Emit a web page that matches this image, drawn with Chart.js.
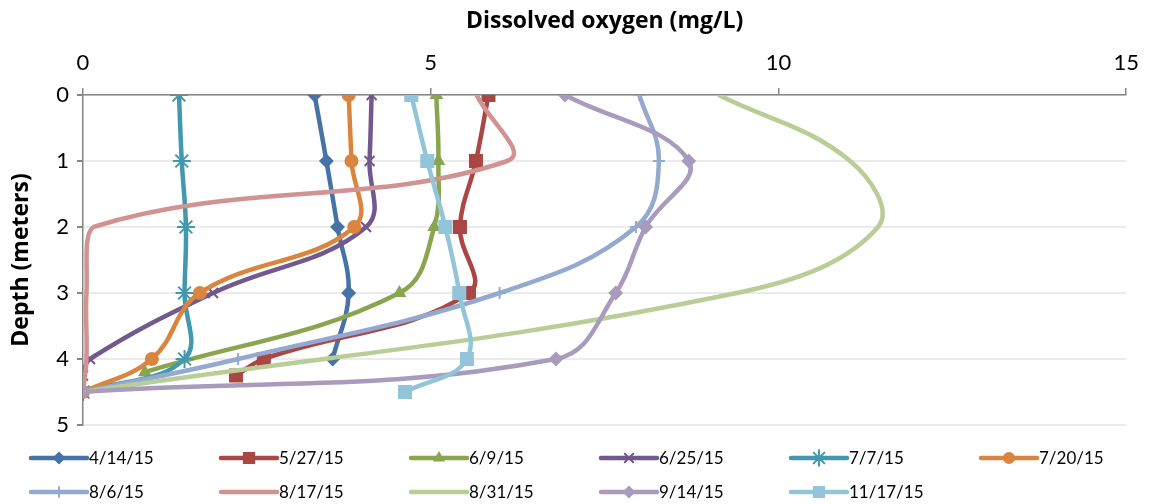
<!DOCTYPE html>
<html lang="en">
<head>
    <meta charset="UTF-8">
    <title>Dissolved oxygen profiles</title>
    <style>
        html, body { margin: 0; padding: 0; background: #fff; }
        #wrap { width: 1151px; height: 504px; position: relative; }
    </style>
    <script src="https://cdn.jsdelivr.net/npm/chart.js"></script>
</head>
<body>
<div id="wrap"><canvas id="doChart" width="1151" height="504"></canvas></div>
<script>
    // sample dates (legend)
    const dates = ['4/14/15', '5/27/15', '6/9/15', '6/25/15', '7/7/15', '7/20/15',
                   '8/6/15', '8/17/15', '8/31/15', '9/14/15', '11/17/15'];

    // depth (m) and dissolved oxygen (mg/L) for each profile
    const dep0414 = [0, 1, 2, 3, 4];
    const do0414  = [3.33, 3.5, 3.66, 3.82, 3.59];
    const dep0527 = [0, 1, 2, 3, 4, 4.25];
    const do0527  = [5.83, 5.65, 5.42, 5.55, 2.6, 2.2];
    const dep0609 = [0, 1, 2, 3, 4.2];
    const do0609  = [5.08, 5.11, 5.05, 4.55, 0.89];
    const dep0625 = [0, 1, 2, 3, 4, 4.25];
    const do0625  = [4.15, 4.12, 4.07, 1.87, 0.1, 0];
    const dep0707 = [0, 1, 2, 3, 4, 4.5];
    const do0707  = [1.38, 1.42, 1.48, 1.46, 1.46, 0];
    const dep0720 = [0, 1, 2, 3, 4, 4.5];
    const do0720  = [3.82, 3.86, 3.9, 1.68, 0.99, 0];
    const dep0806 = [0, 1, 2, 3, 4, 4.5];
    const do0806  = [8.0, 8.28, 7.95, 5.99, 2.23, 0];
    const dep0817 = [0, 1, 2, 3, 4, 4.5];
    const do0817  = [5.66, 6.1, 0.15, 0.05, 0.05, 0];
    const dep0831 = [0, 1, 2, 3, 4.5];
    const do0831  = [9.14, 11.03, 11.43, 9.4, 0];
    const dep0914 = [0, 1, 2, 3, 4, 4.5];
    const do0914  = [6.93, 8.71, 8.09, 7.66, 6.8, 0];
    const dep1117 = [0, 1, 2, 3, 4, 4.5];
    const do1117  = [4.72, 4.95, 5.21, 5.41, 5.52, 4.63];

    const xTicks = [0, 5, 10, 15];
    const yTicks = [0, 1, 2, 3, 4, 5];

    const depths = [dep0414, dep0527, dep0609, dep0625, dep0707, dep0720, dep0806, dep0817, dep0831, dep0914, dep1117];
    const oxygen = [do0414, do0527, do0609, do0625, do0707, do0720, do0806, do0817, do0831, do0914, do1117];

    const colors = ['#4572A7', '#AA4643', '#89A54E', '#71588F', '#4198AF', '#DB843D',
                    '#93A9CF', '#D19392', '#B9CD96', '#A99BBD', '#92C5DA'];
    const markers = ['rectRot', 'rect', 'triangle', 'crossRot', 'star', 'circle',
                     'cross', false, false, 'rectRot', 'rect'];
    const markerSize = [6, 8.5, 6, 7, 9, 6, 6, 0, 0, 6, 8.5];

    const FONT = 'Lato, "Open Sans", sans-serif';
    const TITLE_FONT = '"Open Sans", "Noto Sans", sans-serif';

    const datasets = dates.map(function (d, i) {
        return {
            label: d,
            data: oxygen[i].map(function (v, j) { return { x: v, y: depths[i][j] }; }),
            showLine: true,
            borderColor: colors[i],
            backgroundColor: colors[i],
            borderWidth: 4.5,
            tension: 0.4,
            pointStyle: markers[i],
            pointRadius: markerSize[i],
            pointBorderWidth: 2,
            order: dates.length - i
        };
    });

    // legend drawn in a fixed grid, like the spreadsheet one
    const gridLegend = {
        id: 'gridLegend',
        afterDraw(chart) {
            const ctx = chart.ctx;
            ctx.save();
            dates.forEach(function (d, i) {
                const col = i % 6, row = Math.floor(i / 6);
                const x0 = 31 + col * 190;
                const y = 458 + row * 34;
                ctx.strokeStyle = colors[i];
                ctx.fillStyle = colors[i];
                ctx.lineWidth = 4.5;
                ctx.lineCap = 'round';
                ctx.beginPath();
                ctx.moveTo(x0, y);
                ctx.lineTo(x0 + 56, y);
                ctx.stroke();
                if (markers[i] && Chart.helpers && Chart.helpers.drawPoint) {
                    ctx.lineWidth = 2;
                    Chart.helpers.drawPoint(ctx, {
                        pointStyle: markers[i],
                        radius: markerSize[i] * 0.85,
                        borderWidth: 2,
                        rotation: 0
                    }, x0 + 28, y);
                }
                ctx.fillStyle = '#000';
                ctx.font = '17px ' + FONT;
                ctx.textBaseline = 'middle';
                ctx.textAlign = 'left';
                ctx.fillText(d, x0 + 58, y + 1);
            });
            ctx.restore();
        }
    };

    new Chart(document.getElementById('doChart'), {
        type: 'scatter',
        data: { datasets: datasets },
        plugins: [gridLegend],
        options: {
            responsive: false,
            animation: false,
            layout: { padding: { left: 0, top: 0, right: 22, bottom: 79 } },
            plugins: {
                legend: { display: false },
                tooltip: { enabled: false }
            },
            scales: {
                x: {
                    type: 'linear',
                    position: 'top',
                    min: 0,
                    max: 15,
                    afterBuildTicks: function (s) { s.ticks = xTicks.map(function (v) { return { value: v }; }); },
                    afterFit: function (s) { s.height = 95; },
                    ticks: { color: '#000', padding: 12, font: { family: FONT, size: 22 } },
                    grid: { drawOnChartArea: false, tickColor: '#868686', tickLength: 7, lineWidth: 1.5 },
                    border: { color: '#868686', width: 1.5 },
                    title: {
                        display: true,
                        text: 'Dissolved oxygen (mg/L)',
                        color: '#000',
                        padding: { top: 8, bottom: 0 },
                        font: { family: TITLE_FONT, size: 23, weight: 'bold' }
                    }
                },
                y: {
                    type: 'linear',
                    reverse: true,
                    min: 0,
                    max: 5,
                    afterBuildTicks: function (s) { s.ticks = yTicks.map(function (v) { return { value: v }; }); },
                    afterFit: function (s) { s.width = 83; },
                    ticks: { color: '#000', padding: 8, font: { family: FONT, size: 22 } },
                    grid: { color: '#ebebeb', lineWidth: 2, tickColor: '#868686', tickLength: 6 },
                    border: { color: '#868686', width: 1.5 },
                    title: {
                        display: true,
                        text: 'Depth (meters)',
                        color: '#000',
                        padding: { top: 8, bottom: 0 },
                        font: { family: TITLE_FONT, size: 23, weight: 'bold' }
                    }
                }
            }
        }
    });
</script>
</body>
</html>
